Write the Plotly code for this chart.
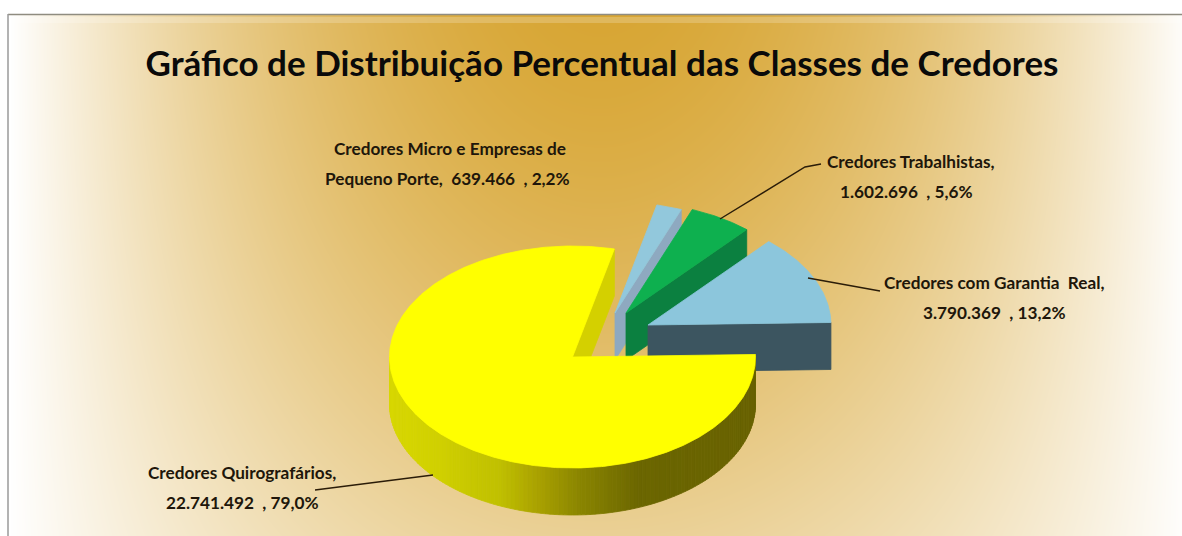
import base64, struct, zlib
import numpy as np
import plotly.graph_objects as go

# ---- data ----
categories = ["Credores Quirografários,", "Credores Micro e Empresas de",
              "Credores Trabalhistas,", "Credores com Garantia  Real,"]
second_lines = ["22.741.492  , 79,0%", "Pequeno Porte,  639.466  , 2,2%",
                "1.602.696  , 5,6%", "3.790.369  , 13,2%"]
values = [22741492, 639466, 1602696, 3790369]
title = "Gráfico de Distribuição Percentual das Classes de Credores"

# ---- styles / layout ----
W, H = 1182, 536
RX, RY, DEPTH = 183, 111, 47
START_DEG = 1.3
apex_x = [572.5, 615, 626, 648]
apex_y = [357, 313, 313, 325]
top_col = ["#ffff00", "#92c8dc", "#0eb04f", "#8cc6dc"]
wall_col = ["#d4d000", "#8ea9c0", "#0b8040", "#3c5560"]
label_x = [[242, 242], [450, 447], [911, 906], [994, 994]]
label_y = [[472, 502], [148, 178], [161, 191], [282, 312]]
leaders = [([433, 315], [475, 490]), ([720, 805, 821], [219, 167, 164]), ([808, 880], [278, 291])]
side_x = [390, 440, 500, 540, 580, 640, 756]
side_r = [216, 208, 192, 168, 138, 107, 104]
side_g = [216, 208, 192, 160, 133, 102, 98]


def background():
    y, x = np.mgrid[0:H, 0:W].astype(float)
    g = np.clip(np.abs(x - 600) / 590, 0, 1) ** 1.9
    v = y / H
    f = 1 - (1 - g) * (1 - 0.48 * v ** 1.4)
    f[17:23] = 1 - (1 - f[17:23]) * 0.8
    gold = np.array([216, 166, 52.0])
    img = gold + (255 - gold) * f[..., None]
    img[:14] = 255
    img[:, :8] = 255
    img = img.astype(np.uint8)
    raw = b"".join(b"\x00" + row.tobytes() for row in img)
    def chunk(t, d):
        c = struct.pack(">I", len(d)) + t + d
        return c + struct.pack(">I", zlib.crc32(t + d))
    png = b"\x89PNG\r\n\x1a\n" + chunk(b"IHDR", struct.pack(">IIBBBBB", W, H, 8, 2, 0, 0, 0)) \
        + chunk(b"IDAT", zlib.compress(raw)) + chunk(b"IEND", b"")
    return "data:image/png;base64," + base64.b64encode(png).decode()


def arc(cx, cy, a0, a1, n):
    t = np.radians(np.linspace(a0, a1, n))
    return cx + RX * np.cos(t), cy - RY * np.sin(t)


def poly(fig, xs, ys, color):
    fig.add_trace(go.Scatter(x=list(xs), y=list(ys), mode="lines", fill="toself", fillcolor=color,
                             line=dict(color=color, width=0.8),
                             hoverinfo="skip", showlegend=False))


total = sum(values)
spans = [360 * v / total for v in values]
# slices run clockwise from the start angle: yellow first
ends = [START_DEG]
for s in spans:
    ends.append(ends[-1] - s)

fig = go.Figure()
draw_order = [1, 2, 3, 0]
for i in draw_order:
    a0, a1 = ends[i], ends[i + 1]
    cx, cy = apex_x[i], apex_y[i]
    xa, ya = arc(cx, cy, a0, a1, max(20, int(spans[i] * 2)))
    if i == 0:
        # outer rim, shaded along x, only the front half of the ellipse shows
        steps = np.linspace(-180, a0, 130)
        for s0, s1 in zip(steps[:-1], steps[1:]):
            x0, y0 = arc(cx, cy, s0, s1, 3)
            mid = x0[1]
            r = np.interp(mid, side_x, side_r)
            g = np.interp(mid, side_x, side_g)
            poly(fig, np.r_[x0, x0[::-1], x0[0]], np.r_[y0, y0[::-1] + DEPTH, y0[0]],
                 f"rgb({r:.0f},{g:.0f},0)")
    # wall on the slice's far radial edge
    ex, ey = xa[-1], ya[-1]
    poly(fig, [cx, ex, ex, cx, cx], [cy, ey, ey + DEPTH, cy + DEPTH, cy], wall_col[i])
    poly(fig, np.r_[cx, xa, cx], np.r_[cy, ya, cy], top_col[i])

for lx, ly in leaders:
    fig.add_trace(go.Scatter(x=lx, y=ly, mode="lines", line=dict(color="#2a1c08", width=1.4),
                             hoverinfo="skip", showlegend=False))

ann = []
for i in range(4):
    for txt, x, y in zip((categories[i], second_lines[i]), label_x[i], label_y[i]):
        ann.append(dict(x=x, y=y, xref="x", yref="y", text=txt, showarrow=False,
                        xanchor="center", yanchor="middle",
                        font=dict(family="Lato", size=17.2, color="#20160a", weight="bold")))

fig.update_layout(
    width=W, height=H, margin=dict(l=0, r=0, t=0, b=0), showlegend=False,
    paper_bgcolor="white", plot_bgcolor="rgba(0,0,0,0)",
    title=dict(text=title, x=602 / W, xanchor="center", y=1 - 64 / H, yanchor="middle",
               font=dict(family="Lato", size=35, color="#0a0a0a", weight="bold")),
    xaxis=dict(range=[0, W], visible=False, fixedrange=True),
    yaxis=dict(range=[H, 0], visible=False, fixedrange=True),
    images=[dict(source=background(), xref="x", yref="y", x=0, y=0, sizex=W, sizey=H,
                 sizing="stretch", xanchor="left", yanchor="top", layer="below")],
    shapes=[dict(type="line", x0=8, x1=W, y0=14.5, y1=14.5, xref="x", yref="y",
                 line=dict(color="#8f8c80", width=1.5)),
            dict(type="line", x0=8, x1=8, y0=14, y1=H, xref="x", yref="y",
                 line=dict(color="#9a9a9a", width=1.5))],
    annotations=ann,
)
fig.write_html("out.html", post_script="document.body.style.margin='0';", config={"displayModeBar": False})
